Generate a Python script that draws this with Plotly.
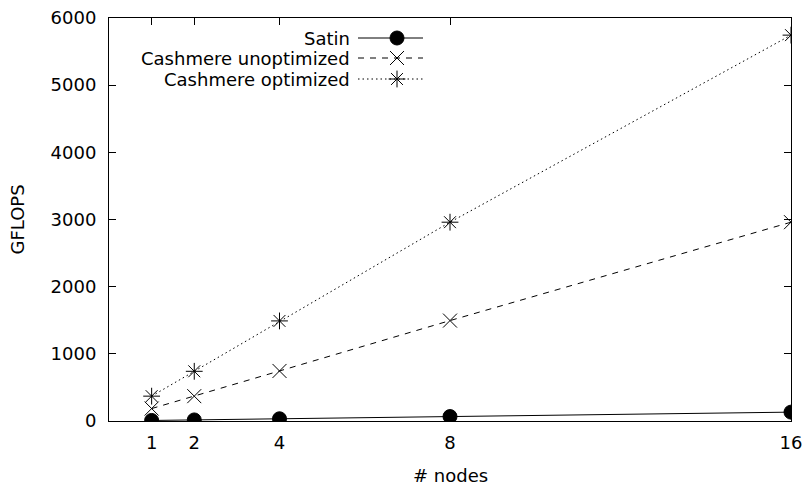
import plotly.graph_objects as go

nodes = [1, 2, 4, 8, 16]
satin = [8, 16, 33, 66, 132]
cash_unopt = [185, 370, 745, 1495, 2960]
cash_opt = [370, 740, 1490, 2960, 5745]
y_ticks = [0, 1000, 2000, 3000, 4000, 5000, 6000]
x_ticks = [1, 2, 4, 8, 16]

FONT = "DejaVu Sans"
FS = 18
fig = go.Figure()

series = [
    ("Satin", satin, "solid", "circle", 14),
    ("Cashmere unoptimized", cash_unopt, "6px,6px", "x-thin-open", 14),
    ("Cashmere optimized", cash_opt, "1.5px,3px", "asterisk-open", 14),
]
for name, vals, dash, sym, sz in series:
    fig.add_trace(go.Scatter(
        x=nodes, y=vals, mode="lines+markers", name=name, showlegend=False,
        line=dict(color="black", width=1, dash=dash),
        marker=dict(symbol=sym, size=sz, color="black",
                    line=dict(color="black", width=1)),
    ))

# manual gnuplot-style legend (text left, sample right) on an overlay axis in pixel units
leg_rows = [449, 429, 408]
for (name, vals, dash, sym, sz), yy in zip(series, leg_rows):
    fig.add_trace(go.Scatter(
        x=[358, 423], y=[yy, yy], mode="lines", xaxis="x2", yaxis="y2",
        showlegend=False, hoverinfo="skip",
        line=dict(color="black", width=1, dash=dash)))
    fig.add_trace(go.Scatter(
        x=[397], y=[yy], mode="markers", xaxis="x2", yaxis="y2",
        showlegend=False, hoverinfo="skip",
        marker=dict(symbol=sym, size=sz, color="black",
                    line=dict(color="black", width=1))))
    fig.add_annotation(x=352, y=yy, xref="x2", yref="y2", text=name,
                       showarrow=False, xanchor="right", yanchor="middle",
                       font=dict(family=FONT, size=FS, color="black"))

axis_common = dict(showline=True, linecolor="black", linewidth=1, mirror="ticks",
                   ticks="inside", ticklen=7, tickcolor="black", showgrid=False,
                   zeroline=False, automargin=False,
                   tickfont=dict(family=FONT, size=FS, color="black"))

fig.add_annotation(x=-92 / 682, y=0.5, xref="paper", yref="paper", text="GFLOPS",
                   textangle=-90, showarrow=False, xanchor="center", yanchor="middle",
                   font=dict(family=FONT, size=FS, color="black"))
fig.add_annotation(x=0.5, y=-54 / 403, xref="paper", yref="paper", text="# nodes",
                   showarrow=False, xanchor="center", yanchor="middle",
                   font=dict(family=FONT, size=FS, color="black"))

fig.update_layout(
    width=807, height=487,
    margin=dict(l=109, r=16, t=18, b=66, autoexpand=False),
    plot_bgcolor="white", paper_bgcolor="white",
    font=dict(family=FONT, size=FS, color="black"),
    xaxis=dict(range=[0, 16], tickvals=x_ticks, ticklabelstandoff=5, **axis_common),
    yaxis=dict(range=[0, 6000], tickvals=y_ticks, ticklabelstandoff=8, **axis_common),
    xaxis2=dict(overlaying="x", range=[109, 791], visible=False, fixedrange=True),
    yaxis2=dict(overlaying="y", range=[66, 469], visible=False, fixedrange=True),
)

fig.write_html("out.html")
